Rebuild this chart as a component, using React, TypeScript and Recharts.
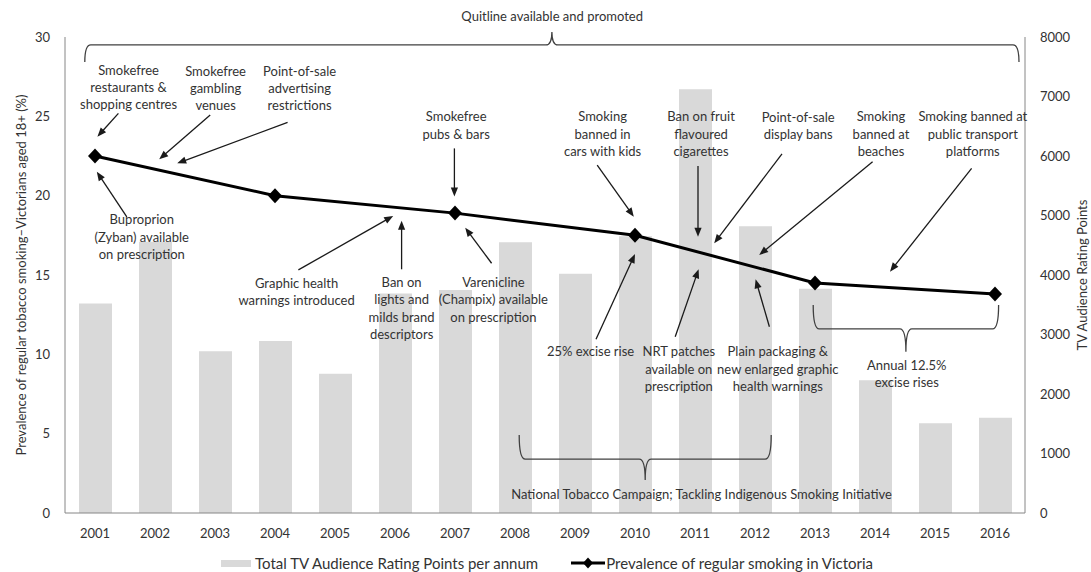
import React from 'react';
import {
  ComposedChart,
  Bar,
  Line,
  XAxis,
  YAxis,
  Legend,
  ReferenceLine,
  ReferenceDot,
} from 'recharts';

// ---------- data ----------
const years = [2001, 2002, 2003, 2004, 2005, 2006, 2007, 2008, 2009, 2010, 2011, 2012, 2013, 2014, 2015, 2016];
const tvRatingPoints = [3520, 4560, 2720, 2890, 2340, 3690, 3750, 4550, 4020, 4650, 7120, 4820, 3770, 2230, 1510, 1600];
const prevalence: (number | null)[] = [22.5, null, null, 20.0, null, null, 18.9, null, null, 17.5, null, null, 14.5, null, null, 13.8];
const leftTicks = [0, 5, 10, 15, 20, 25, 30];
const rightTicks = [0, 1000, 2000, 3000, 4000, 5000, 6000, 7000, 8000];

const seriesNames = {
  tv: 'Total TV Audience Rating Points per annum',
  prev: 'Prevalence of regular smoking in Victoria',
};
const leftAxisTitle = 'Prevalence of regular tobacco smoking\u2013Victorians aged 18+ (%)';
const rightAxisTitle = 'TV Audience Rating Points';

// annotation texts (x in years, y in % on left axis; first line anchor)
const annotationLabels = [
  { x: 2008.62, y: 31.32, lines: ['Quitline available and promoted'] },
  { x: 2001.56, y: 27.92, lines: ['Smokefree', 'restaurants &', 'shopping centres'] },
  { x: 2003.01, y: 27.86, lines: ['Smokefree', 'gambling', 'venues'] },
  { x: 2004.41, y: 27.86, lines: ['Point-of-sale', 'advertising', 'restrictions'] },
  { x: 2001.78, y: 18.47, lines: ['Buproprion', '(Zyban) available', 'on prescription'] },
  { x: 2007.02, y: 24.98, lines: ['Smokefree', 'pubs & bars'] },
  { x: 2004.36, y: 14.48, lines: ['Graphic health', 'warnings introduced'] },
  { x: 2006.11, y: 14.54, lines: ['Ban on', 'lights and', 'milds brand', 'descriptors'] },
  { x: 2007.64, y: 14.54, lines: ['Varenicline', '(Champix) available', 'on prescription'] },
  { x: 2009.46, y: 24.98, lines: ['Smoking', 'banned in', 'cars with kids'] },
  { x: 2011.1, y: 24.98, lines: ['Ban on fruit', 'flavoured', 'cigarettes'] },
  { x: 2012.72, y: 24.94, lines: ['Point-of-sale', 'display bans'] },
  { x: 2014.1, y: 24.98, lines: ['Smoking', 'banned at', 'beaches'] },
  { x: 2015.63, y: 24.98, lines: ['Smoking banned at', 'public transport', 'platforms'] },
  { x: 2009.26, y: 10.17, lines: ['25% excise rise'] },
  { x: 2010.73, y: 10.17, lines: ['NRT patches', 'available on', 'prescription'] },
  { x: 2012.38, y: 10.17, lines: ['Plain packaging &', 'new enlarged graphic', 'health warnings'] },
  { x: 2014.53, y: 9.33, lines: ['Annual 12.5%', 'excise rises'] },
  { x: 2011.11, y: 1.18, lines: ['National Tobacco Campaign; Tackling Indigenous Smoking Initiative'] },
];

// arrows: tail (x1,y1) -> head (x2,y2)
const arrows = [
  [2001.39, 25.19, 2001.04, 23.72],
  [2002.92, 25.08, 2002.07, 22.29],
  [2004.21, 24.62, 2002.37, 22.04],
  [2001.53, 18.67, 2001.03, 21.51],
  [2006.99, 22.98, 2006.99, 19.94],
  [2004.39, 15.32, 2005.97, 18.72],
  [2006.11, 15.36, 2006.11, 18.42],
  [2007.61, 15.74, 2007.17, 17.98],
  [2009.37, 21.93, 2009.98, 18.67],
  [2011.05, 21.87, 2011.05, 17.41],
  [2012.45, 22.63, 2011.32, 17.0],
  [2013.96, 22.14, 2012.07, 16.26],
  [2015.61, 21.72, 2014.25, 15.21],
  [2009.35, 10.95, 2010.0, 16.32],
  [2010.67, 11.11, 2011.06, 15.36],
  [2012.24, 11.74, 2012.01, 14.73],
];

// braces: from x1 to x2, ends at yEnd, bar at yMid, point at yTip
const braces = [
  { x1: 2000.83, x2: 2016.4, yEnd: 28.42, yMid: 29.5, yTip: 30.32 },
  { x1: 2012.97, x2: 2016.06, yEnd: 13.11, yMid: 11.6, yTip: 10.17 },
  { x1: 2008.07, x2: 2012.27, yEnd: 4.92, yMid: 3.4, yTip: 2.08 },
];

const data = years.map((year, i) => ({ year, tv: tvRatingPoints[i], prev: prevalence[i] }));

// ---------- styles ----------
const FONT = 'Lato, "Open Sans", sans-serif';
const TEXT = '#333333';
const AXIS = '#868686';
const BAR = '#d9d9d9';

const diamondPath = (cx: number, cy: number, w: number, h: number) =>
  `M${cx},${cy - h} L${cx + w},${cy} L${cx},${cy + h} L${cx - w},${cy} Z`;

const DiamondDot = (props: any) => {
  const { cx, cy, payload, index } = props;
  if (payload == null || payload.prev == null || cx == null || cy == null) return <g key={`d${index}`} />;
  return <path key={`d${index}`} d={diamondPath(cx, cy, 7, 7.5)} fill="#000" />;
};

const ArrowShape = (p: any) => {
  const x1 = Number(p.x1), y1 = Number(p.y1), x2 = Number(p.x2), y2 = Number(p.y2);
  if (![x1, y1, x2, y2].every(Number.isFinite)) return <g />;
  const dx = x2 - x1, dy = y2 - y1;
  const len = Math.hypot(dx, dy) || 1;
  const ux = dx / len, uy = dy / len;
  const hl = 9, hw = 3.6;
  const bx = x2 - ux * hl, by = y2 - uy * hl;
  const px = -uy, py = ux;
  return (
    <g>
      <line x1={x1} y1={y1} x2={bx + ux * 1} y2={by + uy * 1} stroke="#1a1a1a" strokeWidth={1.3} />
      <polygon
        points={`${x2},${y2} ${bx + px * hw},${by + py * hw} ${bx - px * hw},${by - py * hw}`}
        fill="#1a1a1a"
      />
    </g>
  );
};

const makeBraceShape = (b: { yEnd: number; yMid: number; yTip: number }) => (p: any) => {
  const L = Number(p.x1), endPx = Number(p.y1), R = Number(p.x2), tipPx = Number(p.y2);
  if (![L, endPx, R, tipPx].every(Number.isFinite)) return <g />;
  const midPx = endPx + ((b.yMid - b.yEnd) / (b.yTip - b.yEnd)) * (tipPx - endPx);
  const C = (L + R) / 2;
  const r = 6;
  const d = [
    `M${L},${endPx}`,
    `Q${L},${midPx} ${L + r},${midPx}`,
    `L${C - r},${midPx}`,
    `Q${C},${midPx} ${C},${tipPx}`,
    `Q${C},${midPx} ${C + r},${midPx}`,
    `L${R - r},${midPx}`,
    `Q${R},${midPx} ${R},${endPx}`,
  ].join(' ');
  return <path d={d} fill="none" stroke="#404040" strokeWidth={1.3} />;
};

const makeLabelShape = (lines: string[]) => (p: any) => {
  const { cx, cy } = p;
  if (cx == null || cy == null) return <g />;
  return (
    <text textAnchor="middle" fontSize={13} fill={TEXT} fontFamily={FONT}>
      {lines.map((l, i) => (
        <tspan key={i} x={cx} y={cy + i * 17.4} dy="0.35em">
          {l}
        </tspan>
      ))}
    </text>
  );
};

const LegendContent = () => (
  <div
    style={{
      display: 'flex',
      alignItems: 'center',
      paddingLeft: 221,
      fontFamily: FONT,
      fontSize: 15,
      color: TEXT,
      height: 18,
      whiteSpace: 'nowrap',
    }}
  >
    <span style={{ display: 'inline-block', width: 30, height: 7, background: BAR, marginRight: 4 }} />
    <span>{seriesNames.tv}</span>
    <svg width={34} height={14} style={{ marginLeft: 33, marginRight: 1 }}>
      <line x1={0} y1={7} x2={34} y2={7} stroke="#000" strokeWidth={3} />
      <path d={diamondPath(17, 7, 5, 5.5)} fill="#000" />
    </svg>
    <span>{seriesNames.prev}</span>
  </div>
);

const AxisTitle = (side: 'left' | 'right', text: string) => (p: any) => {
  const vb = p.viewBox || {};
  const cx = side === 'left' ? vb.x + 21 : vb.x + 57;
  const cy = vb.y + vb.height / 2;
  return (
    <text
      x={cx}
      y={cy}
      transform={`rotate(-90, ${cx}, ${cy})`}
      textAnchor="middle"
      dominantBaseline="central"
      fontSize={13}
      fill={TEXT}
      fontFamily={FONT}
    >
      {text}
    </text>
  );
};

export default function App() {
  const tick = { fontSize: 13, fill: TEXT, fontFamily: FONT };
  return (
    <div style={{ position: 'absolute', left: 0, top: 0, background: '#fff' }}>
      <ComposedChart
        width={1091}
        height={572}
        data={data}
        margin={{ top: 37, right: 0, bottom: 29, left: 0 }}
        style={{ fontFamily: FONT }}
      >
        <XAxis
          dataKey="year"
          type="number"
          domain={[2000.5, 2016.5]}
          ticks={years}
          interval={0}
          height={30}
          tick={tick}
          tickLine={false}
          tickMargin={10}
          axisLine={{ stroke: AXIS }}
        />
        <YAxis
          yAxisId="left"
          orientation="left"
          domain={[0, 30]}
          ticks={leftTicks}
          width={65}
          tick={tick}
          tickLine={false}
          tickMargin={9}
          axisLine={{ stroke: AXIS }}
          label={{ content: AxisTitle('left', leftAxisTitle) }}
        />
        <YAxis
          yAxisId="right"
          orientation="right"
          domain={[0, 8000]}
          ticks={rightTicks}
          width={66}
          tick={tick}
          tickLine={false}
          tickMargin={9}
          axisLine={{ stroke: AXIS }}
          label={{ content: AxisTitle('right', rightAxisTitle) }}
        />
        <Bar
          yAxisId="right"
          dataKey="tv"
          name={seriesNames.tv}
          fill={BAR}
          barSize={33}
          isAnimationActive={false}
        />
        <Line
          yAxisId="left"
          dataKey="prev"
          name={seriesNames.prev}
          stroke="#000"
          strokeWidth={3}
          connectNulls
          dot={DiamondDot}
          activeDot={false}
          isAnimationActive={false}
        />
        {braces.map((b, i) => (
          <ReferenceLine
            key={`b${i}`}
            yAxisId="left"
            ifOverflow="visible"
            segment={[
              { x: b.x1, y: b.yEnd },
              { x: b.x2, y: b.yTip },
            ]}
            shape={makeBraceShape(b)}
          />
        ))}
        {arrows.map((a, i) => (
          <ReferenceLine
            key={`a${i}`}
            yAxisId="left"
            ifOverflow="visible"
            segment={[
              { x: a[0], y: a[1] },
              { x: a[2], y: a[3] },
            ]}
            shape={ArrowShape}
          />
        ))}
        {annotationLabels.map((l, i) => (
          <ReferenceDot
            key={`l${i}`}
            yAxisId="left"
            x={l.x}
            y={l.y}
            r={0}
            ifOverflow="visible"
            shape={makeLabelShape(l.lines)}
          />
        ))}
        <Legend
          verticalAlign="middle"
          align="center"
          layout="horizontal"
          wrapperStyle={{ top: 554, left: 0, width: 1091, height: 18 }}
          content={() => <LegendContent />}
        />
      </ComposedChart>
    </div>
  );
}
